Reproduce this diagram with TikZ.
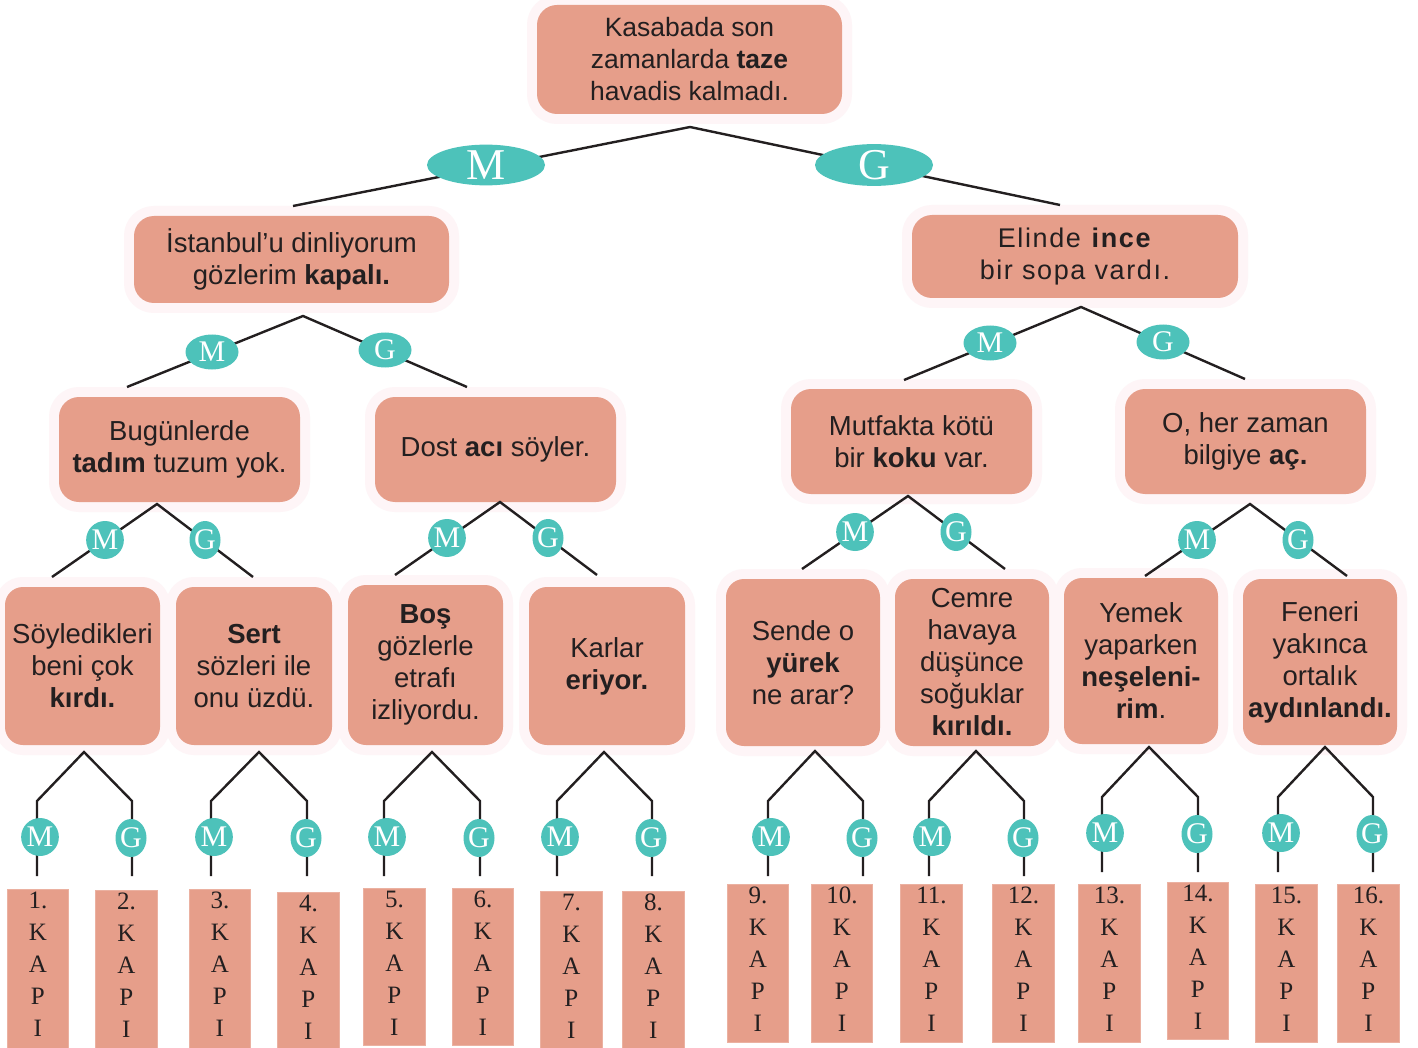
\documentclass[tikz,border=0pt]{standalone}
\usepackage{fontspec}
\setmainfont{Liberation Sans}
\newfontfamily\doorfont{Liberation Serif}
\usetikzlibrary{shapes.geometric}
\definecolor{salmon}{HTML}{E69E8A}
\definecolor{rimpink}{HTML}{FEF5F7}
\definecolor{mgteal}{HTML}{4DC2BA}
\definecolor{ink}{HTML}{231F20}
\begin{document}
\begin{tikzpicture}[x=1pt,y=-1pt,
  box/.style={fill=salmon, rounded corners=20pt, inner sep=0pt, align=center, text=ink,
    font=\fontsize{27.5}{32}\selectfont, preaction={draw=rimpink, line width=20pt}},
  leaf/.style={box, rounded corners=18pt},
  conn/.style={draw=ink, line width=2.4pt},
  mgbig/.style={ellipse, fill=mgteal, text=white, inner sep=0pt, minimum width=118pt, minimum height=40pt,
    font=\doorfont\fontsize{44}{44}\selectfont},
  mgmid/.style={ellipse, fill=mgteal, text=white, inner sep=0pt, minimum width=53pt, minimum height=35pt,
    font=\doorfont\fontsize{30}{30}\selectfont},
  mgs/.style={ellipse, fill=mgteal, text=white, inner sep=0pt, minimum width=37pt, minimum height=38pt,
    font=\doorfont\fontsize{30}{30}\selectfont},
  gs/.style={mgs, minimum width=31pt},
  door/.style={fill=salmon, draw=salmon!80!white, line width=0.8pt, inner sep=0pt},
  doortxt/.style={inner sep=0pt, align=center, text=ink, font=\doorfont\fontsize{25}{32}\selectfont}
]
\fill[white] (0,0) rectangle (1418,1048);
\useasboundingbox (0,0) rectangle (1418,1048);

% boxes
\node[box, minimum width=305pt, minimum height=109pt, font=\fontsize{26.5}{32}\selectfont] (root) at (689.5,59.5) {Kasabada son\\zamanlarda \textbf{taze}\\havadis kalmadı.};
\node[box, minimum width=315pt, minimum height=87pt] (L) at (291.5,259.5) {İstanbul’u dinliyorum\\gözlerim \textbf{kapalı.}};
\node[box, minimum width=326pt, minimum height=83pt, font=\fontsize{27}{32}\selectfont\addfontfeature{LetterSpace=6}] (R) at (1075,256.5) {Elinde \textbf{ince}\\bir sopa vardı.};
\node[box, minimum width=241pt, minimum height=105pt] (LL) at (179.5,449.5) {Bugünlerde\\\textbf{tadım} tuzum yok.};
\node[box, minimum width=241pt, minimum height=105pt] (LR) at (495.5,449.5) {Dost \textbf{acı} söyler.};
\node[box, minimum width=241pt, minimum height=105pt] (RL) at (911.5,441.5) {Mutfakta kötü\\bir \textbf{koku} var.};
\node[box, minimum width=241pt, minimum height=105pt] (RR) at (1245.5,441.5) {O, her zaman\\bilgiye \textbf{aç.}};

\node[leaf, minimum width=155pt, minimum height=158pt] (f1) at (82.5,666) {Söyledikleri\\beni çok\\\textbf{kırdı.}};
\node[leaf, minimum width=156pt, minimum height=158pt] (f2) at (254,666) {\textbf{Sert}\\sözleri ile\\onu üzdü.};
\node[leaf, minimum width=155pt, minimum height=160pt] (f3) at (425.5,665) {\textbf{Boş}\\gözlerle\\etrafı\\izliyordu.};
\node[leaf, minimum width=156pt, minimum height=158pt] (f4) at (607,666) {Karlar\\\textbf{eriyor.}};
\node[leaf, minimum width=154pt, minimum height=167pt] (f5) at (803,662.5) {Sende o\\\textbf{yürek}\\ne arar?};
\node[leaf, minimum width=154pt, minimum height=167pt] (f6) at (972,662.5) {Cemre\\havaya\\düşünce\\soğuklar\\\textbf{kırıldı.}};
\node[leaf, minimum width=154pt, minimum height=166pt] (f7) at (1141,661) {Yemek\\yaparken\\\textbf{neşeleni-}\\\textbf{rim}.};
\node[leaf, minimum width=154pt, minimum height=166pt] (f8) at (1320,662) {Feneri\\yakınca\\ortalık\\\textbf{aydınlandı.}};

% level 1 connectors
\coordinate (ra) at (690,127);
\coordinate (rl) at (293,206);
\coordinate (rr) at (1060,205);
\draw[conn] (rl) -- (ra) -- (rr);
\node[mgbig] (m1) at (486,165) {M};
\node[mgbig] (g1) at (874,165) {G};

% level 2
\coordinate (La) at (303,316);
\coordinate (Ll) at (127,387);
\coordinate (Lr) at (467,387);
\draw[conn] (Ll) -- (La) -- (Lr);
\node[mgmid] (mL) at (212,352) {M};
\node[mgmid] (gL) at (385,350) {G};
\coordinate (Ra) at (1081,307);
\coordinate (Rl) at (904,380);
\coordinate (Rr) at (1245,379);
\draw[conn] (Rl) -- (Ra) -- (Rr);
\node[mgmid] (mR) at (990,343) {M};
\node[mgmid] (gR) at (1163,342) {G};

% level 3
\foreach \n/\ax/\ay/\lx/\ly/\rx/\ry/\mx/\my/\gx/\gy in {
  LL/157/504/52/577/253/577/105/540/205/540,
  LR/500/502/395/575/597/575/447/538/548/538,
  RL/908/496/802/569/1005/569/855/532/956/532,
  RR/1250/504/1145/576/1347/576/1197/540/1298/540}{
  \coordinate (\n a) at (\ax,\ay);
  \coordinate (\n l) at (\lx,\ly);
  \coordinate (\n r) at (\rx,\ry);
  \draw[conn] (\n l) -- (\n a) -- (\n r);
  \node[mgs] (\n m) at (\mx,\my) {M};
  \node[gs] (\n g) at (\gx,\gy) {G};
}

% level 4
\foreach \i/\ax/\ay/\lx/\rx/\ky/\by in {
  1/84/752/37/132/801/876, 2/259/752/211/307/801/876,
  3/432/752/384/480/801/876, 4/604/752/557/652/801/876,
  5/815/751/768/863/801/876, 6/976/751/929/1024/801/876,
  7/1149/747/1102/1198/797/872, 8/1325/747/1278/1373/797/872}{
  \coordinate (ap\i) at (\ax,\ay);
  \coordinate (kl\i) at (\lx,\ky);
  \coordinate (kr\i) at (\rx,\ky);
  \coordinate (el\i) at (\lx,\by);
  \coordinate (er\i) at (\rx,\by);
  \draw[conn] (el\i) -- (kl\i) -- (ap\i) -- (kr\i) -- (er\i);
  \node[mgs] (lm\i) at (\lx+3,\ky+36) {M};
  \node[gs] (lg\i) at (\rx-1,\ky+37) {G};
}

% doors
\foreach \n/\l/\r/\t/\b in {
  1/7/68/889/1048, 2/95/157/890/1048, 3/189/250/889/1048, 4/277/339/892/1048,
  5/363/425/888/1045, 6/452/513/888/1045, 7/540/602/891/1048, 8/622/684/891/1048,
  9/727/788/884/1042, 10/811/872/884/1042, 11/900/962/884/1042, 12/992/1054/884/1042,
  13/1078/1140/884/1042, 14/1167/1228/882/1039, 15/1255/1317/884/1042, 16/1337/1399/884/1042}{
  \node[door, anchor=north west, minimum width={\r-\l}, minimum height={\b-\t}] (d\n) at (\l,\t) {};
  \node[doortxt, anchor=north] (t\n) at ([yshift=-2.5pt]d\n.north) {\n.\\K\\A\\P\\I};
}
\end{tikzpicture}
\end{document}
